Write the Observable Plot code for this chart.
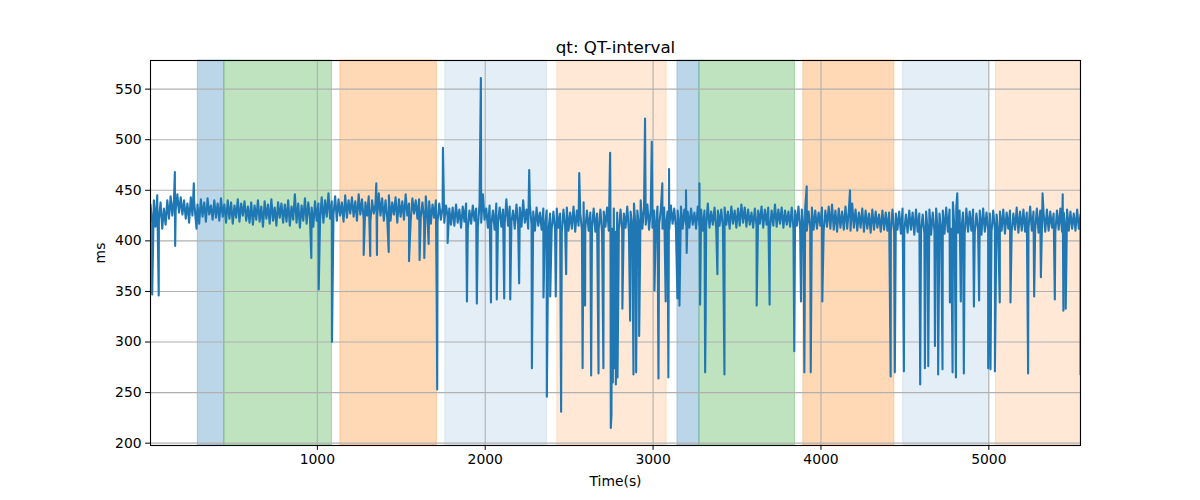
<!DOCTYPE html>
<html><head><meta charset="utf-8">
<script src="https://cdn.jsdelivr.net/npm/d3@7"></script>
<script src="https://cdn.jsdelivr.net/npm/@observablehq/plot@0.6"></script>
<style>body{margin:0;background:#fff}#chart svg{display:block}</style>
</head><body><div id="chart"></div>
<script>
const title = "qt: QT-interval";
const xLabel = "Time(s)";
const yLabel = "ms";
const startTime = 6;
const sampleStep = 10;
const qtBase = [
436,418,440,414,445,420,438,412,432,416,440,422,444,425,441,430,446,428,443,426,
440,422,437,418,443,425,439,420,436,417,441,424,438,419,442,426,435,421,440,423,
437,420,442,424,436,418,440,422,438,417,435,423,441,419,437,425,439,420,434,418,
438,416,435,421,440,419,434,414,439,422,436,417,441,420,433,415,438,423,437,418,
436,419,440,415,434,421,446,418,437,413,435,420,442,417,438,422,433,414,439,420,
437,421,443,418,440,424,447,422,439,426,444,420,441,425,438,419,445,423,440,427,
443,424,439,420,446,426,441,421,438,425,444,419,440,427,436,422,447,425,442,420,
440,423,445,420,438,426,443,418,441,424,439,421,446,425,437,420,442,427,440,422,
441,424,438,420,444,422,439,417,436,423,440,419,437,421,433,418,435,424,432,416,
433,415,436,418,431,413,434,419,437,412,430,417,435,420,432,414,436,418,446,421,
432,413,435,416,430,411,437,418,433,414,431,417,441,415,434,419,430,412,436,416,
433,414,440,418,431,412,435,416,429,410,433,415,428,411,432,414,430,409,427,412,
429,411,432,413,427,408,431,414,433,410,428,412,434,409,430,415,427,411,438,412,
430,410,428,413,432,409,427,412,431,408,429,414,433,410,426,412,432,409,428,411,
431,410,427,413,434,409,429,415,437,411,430,414,440,412,433,416,436,411,431,413,
430,413,434,416,431,412,433,415,429,411,435,417,432,413,430,415,434,412,431,416,
429,413,432,416,428,412,434,415,431,410,430,414,437,413,429,416,433,412,430,415,
431,414,433,416,429,412,434,417,430,413,432,415,436,418,433,414,431,416,428,413,
432,415,430,417,434,413,431,416,433,412,430,415,436,414,431,417,433,413,430,416,
429,414,433,412,430,415,434,411,431,413,432,410,429,414,433,411,430,412,428,415,
433,410,430,414,434,412,436,411,430,409,432,413,429,411,434,412,430,410,437,413,
431,410,428,413,432,409,430,412,427,408,431,411,429,413,426,409,430,411,428,410,
428,409,431,408,427,411,429,407,432,410,426,408,430,411,428,406,431,409,427,410,
426,407,429,409,431,406,428,410,432,408,427,411,430,407,433,409,431,412,438,410,
433,408,430,411,428,407,432,409,429,410,431,408,427,411,430,406,432,409,428,410,
427,409,430,411,426,408,429,410,431,407,428,412,430,409,427,411,433,408,429,410,
431,409,428,412,434,410,429,411,432,408,430,412,428,409,431,410,429,413,427,409,
430,411,432,409,428,413,431,410,429,412,427,410,431,412,426
];
const spikeTimes = [16,55,151,153,264,280,964,1008,1087,1276,1315,1351,1355,1425,1546,1609,1637,1663,1711,1714,1748,1776,
1891,1948,1950,1974,2034,2069,2113,2149,2202,2262,2278,2347,2367,2387,2420,2452,2482,2560,2580,2595,2631,2675,2704,
2744,2748,2752,2760,2770,2778,2788,2817,2863,2883,2899,2917,2952,2992,3008,3032,3055,3075,3091,3095,3145,3157,3196,3200,
3276,3280,3310,3313,3383,3425,3617,3694,3841,3881,3901,3915,3939,4008,4173,4415,4440,4494,4591,4619,4639,4679,4698,4724,
4768,4784,4804,4812,4833,4851,4911,4942,4996,5010,5036,5065,5129,5234,5270,5310,5320,5393,5440,5444,5458,5546];
const spikeValues = [347,346,468,395,457,412,383,352,300,386,385,457,386,389,380,381,383,397,341,253,492,398,
340,378,338,561,339,342,343,342,358,470,274,344,246,345,345,231,367,467,274,336,267,269,274,
487,215,228,260,274,258,265,333,321,268,270,306,521,498,351,264,457,340,265,471,343,336,450,388,
457,337,270,322,367,268,336,337,291,340,270,454,270,340,450,266,270,271,258,274,276,296,268,273,
339,270,265,447,340,269,335,341,274,273,271,339,339,269,345,364,447,342,446,331,333,268];
const spanStart = [288, 446, 1137, 1762, 2429, 3145, 3276, 3895, 4490, 5042];
const spanEnd   = [446, 1087, 1712, 2367, 3081, 3276, 3845, 4437, 5002, 5546];
const spanPhase = ["A","B","C","D","E","A","B","C","D","E"];
const xTicks = [1000, 2000, 3000, 4000, 5000];
const yTicks = [200, 250, 300, 350, 400, 450, 500, 550];

const phaseStyle = {
  A: {fill: "#1f77b4", op: 0.3},
  B: {fill: "#2ca02c", op: 0.3},
  C: {fill: "#ff7f0e", op: 0.3},
  D: {fill: "#1f77b4", op: 0.12},
  E: {fill: "#ff7f0e", op: 0.17}
};

const points = qtBase.map((v, i) => ({t: startTime + i * sampleStep, v}))
  .concat(spikeTimes.map((t, i) => ({t, v: spikeValues[i]})));
points.sort((a, b) => a.t - b.t);
const spans = spanStart.map((s, i) => ({s, e: spanEnd[i], p: spanPhase[i]}));

const [ymin, ymax] = d3.extent(points, d => d.v);
const pad = (ymax - ymin) * 0.05;
const xDom = d3.extent(points, d => d.t);

const chart = Plot.plot({
  width: 1200, height: 500,
  marginLeft: 150, marginRight: 120, marginTop: 60, marginBottom: 55,
  style: {fontFamily: "DejaVu Sans", fontSize: "13.9px", color: "black", background: "white"},
  x: {domain: xDom},
  y: {domain: [ymin - pad, ymax + pad]},
  marks: [
    ...["A","B","C","D","E"].map(p => Plot.rect(spans.filter(d => d.p === p), {
      x1: "s", x2: "e", fill: phaseStyle[p].fill, fillOpacity: phaseStyle[p].op,
      stroke: phaseStyle[p].fill, strokeOpacity: phaseStyle[p].op, strokeWidth: 1
    })),
    Plot.gridX(xTicks, {stroke: "#b0b0b0", strokeOpacity: 1, strokeWidth: 1.1}),
    Plot.gridY(yTicks, {stroke: "#b0b0b0", strokeOpacity: 1, strokeWidth: 1.1}),
    Plot.line(points, {x: "t", y: "v", stroke: "#1f77b4", strokeWidth: 2.1, clip: true}),
    Plot.frame({stroke: "black", strokeWidth: 1.1}),
    Plot.axisX({ticks: xTicks, tickSize: 4.9, tickPadding: 4, tickFormat: d => String(d), label: xLabel, labelAnchor: "center", labelArrow: "none", labelOffset: 40}),
    Plot.axisY({ticks: yTicks, tickSize: 4.9, tickPadding: 4, tickFormat: d => String(d), label: yLabel, labelAnchor: "center", labelArrow: "none", labelOffset: 55}),
    Plot.text([title], {frameAnchor: "top", dy: -8, lineAnchor: "bottom", fontSize: 16.7, fill: "black", text: d => d})
  ]
});
document.getElementById("chart").appendChild(chart);
</script>
</body></html>
